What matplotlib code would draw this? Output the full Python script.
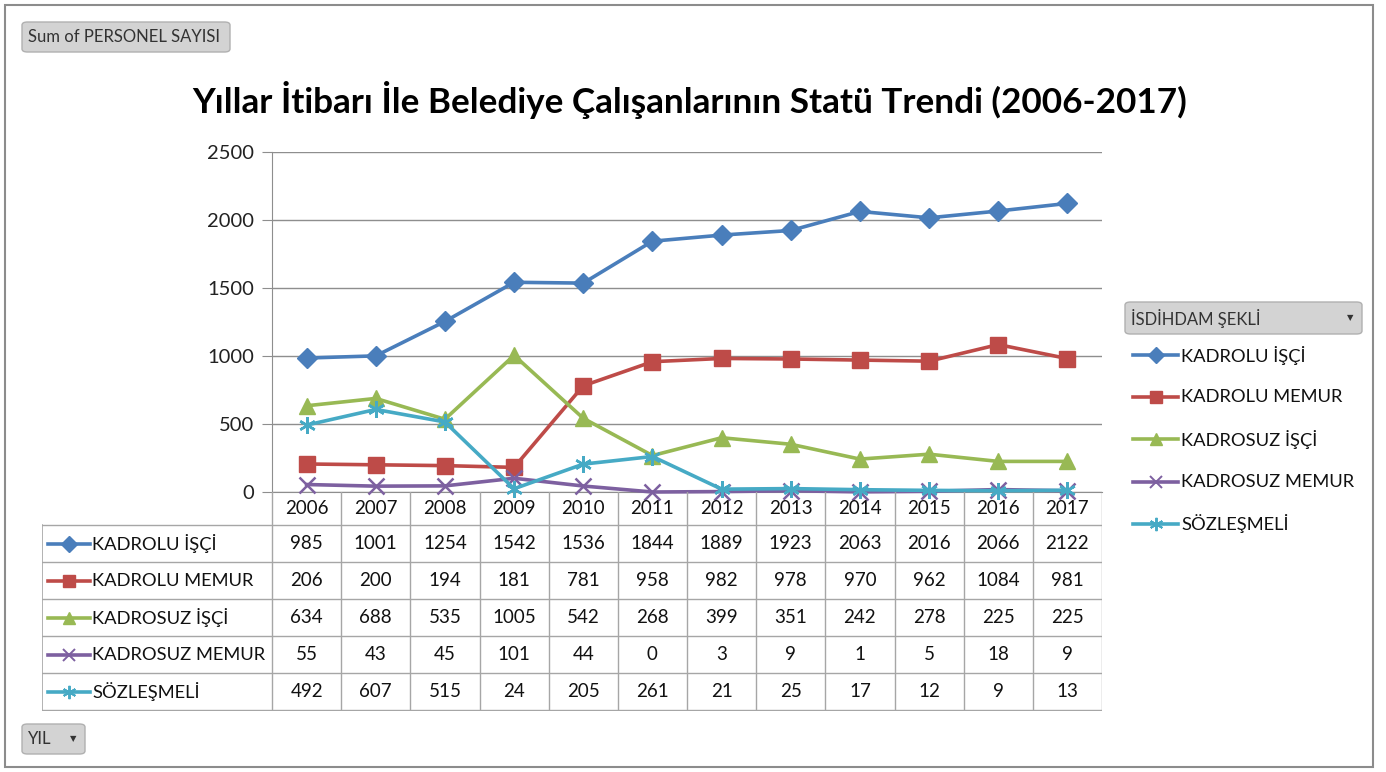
import matplotlib
matplotlib.use("Agg")
import matplotlib.pyplot as plt
from matplotlib import patches

plt.rcParams["font.family"] = ["Lato", "DejaVu Sans"]

# veri
years = ["2006", "2007", "2008", "2009", "2010", "2011",
         "2012", "2013", "2014", "2015", "2016", "2017"]
series_names = ["KADROLU İŞÇİ", "KADROLU MEMUR", "KADROSUZ İŞÇİ",
                "KADROSUZ MEMUR", "SÖZLEŞMELİ"]
kadrolu_isci = [985, 1001, 1254, 1542, 1536, 1844, 1889, 1923, 2063, 2016, 2066, 2122]
kadrolu_memur = [206, 200, 194, 181, 781, 958, 982, 978, 970, 962, 1084, 981]
kadrosuz_isci = [634, 688, 535, 1005, 542, 268, 399, 351, 242, 278, 225, 225]
kadrosuz_memur = [55, 43, 45, 101, 44, 0, 3, 9, 1, 5, 18, 9]
sozlesmeli = [492, 607, 515, 24, 205, 261, 21, 25, 17, 12, 9, 13]
yticks = [0, 500, 1000, 1500, 2000, 2500]

values = [kadrolu_isci, kadrolu_memur, kadrosuz_isci, kadrosuz_memur, sozlesmeli]
colors = ["#4A7EBB", "#BE4B48", "#98B954", "#7D60A0", "#46AAC5"]
markers = ["D", "s", "^", "x", (6, 2, 0)]
msizes = [10, 11, 11, 11, 12]

W, H = 1386, 772
DPI = 100
fig = plt.figure(figsize=(W / DPI, H / DPI), dpi=DPI)


def fx(px):
    return px / W


def fy(py):
    return 1 - py / H


# dış çerçeve
fig.add_artist(patches.Rectangle((fx(5), fy(767)), fx(1373 - 5), (767 - 5) / H,
                                 fill=False, edgecolor="#8C8C8C", linewidth=1.5,
                                 transform=fig.transFigure))

# düğmeler
def button(x0, y0, x1, y1, label, arrow=False, fs=12):
    fig.add_artist(patches.FancyBboxPatch(
        (fx(x0), fy(y1)), fx(x1 - x0), (y1 - y0) / H,
        boxstyle="round,pad=0,rounding_size=0.004",
        facecolor="#D3D3D3", edgecolor="#B0B0B0", linewidth=1,
        transform=fig.transFigure))
    fig.text(fx(x0 + 6), fy((y0 + y1) / 2), label, fontsize=fs, color="#333333",
             ha="left", va="center")
    if arrow:
        fig.text(fx(x1 - 12), fy((y0 + y1) / 2), "▼", fontsize=6, color="#333333",
                 ha="center", va="center", family="DejaVu Sans")


button(22, 22, 230, 52, "Sum of PERSONEL SAYISI")
button(22, 724, 85, 754, "YIL", arrow=True)
button(1125, 302, 1362, 334, "İSDİHDAM ŞEKLİ", arrow=True)

# başlık
fig.text(fx(690), fy(100), "Yıllar İtibarı İle Belediye Çalışanlarının Statü Trendi (2006-2017)",
         fontsize=25.3, fontweight="bold", color="black", ha="center", va="center")

# ana grafik
ax = fig.add_axes([fx(272), fy(492), fx(1102 - 272), (492 - 152) / H])
x = list(range(len(years)))
for vals, c, m, ms in zip(values, colors, markers, msizes):
    mew = 1.8 if m in ("x", (6, 2, 0)) else 1
    ax.plot(x, vals, color=c, linewidth=2.6, marker=m, markersize=ms,
            markeredgewidth=mew, markeredgecolor=c, markerfacecolor=c,
            clip_on=False, zorder=3)
ax.set_xlim(-0.5, len(years) - 0.5)
ax.set_ylim(0, 2500)
ax.set_yticks(yticks)
ax.set_yticklabels([str(t) for t in yticks], fontsize=14.5, color="#222222")
ax.set_xticks([])
ax.yaxis.grid(True, color="#8E8E8E", linewidth=1)
ax.set_axisbelow(True)
for s in ["top", "right"]:
    ax.spines[s].set_visible(False)
ax.spines["left"].set_color("#8E8E8E")
ax.spines["bottom"].set_color("#8E8E8E")
ax.tick_params(axis="y", length=7, color="#8E8E8E", pad=6)

# veri tablosu
col_w = (1102 - 272) / len(years)
left_unit = -0.5 - (272 - 42) / col_w
tab = fig.add_axes([fx(42), fy(711), fx(1102 - 42), (711 - 492) / H])
tab.set_xlim(left_unit, len(years) - 0.5)
tab.set_ylim(219, 0)
tab.axis("off")
grid_c = "#A6A6A6"
row_tops = [33 + 37 * k for k in range(6)]
for i in range(len(years) + 1):
    tab.plot([i - 0.5, i - 0.5], [0, 219], color=grid_c, linewidth=1)
tab.plot([left_unit, left_unit], [33, 219], color=grid_c, linewidth=1.2)
for yy in row_tops:
    tab.plot([left_unit, len(years) - 0.5], [yy, yy], color=grid_c, linewidth=1)
for i, yr in enumerate(years):
    tab.text(i, 17, yr, fontsize=13.5, ha="center", va="center", color="#111111")
for r, (name, vals, c, m, ms) in enumerate(zip(series_names, values, colors, markers, msizes)):
    yc = 33 + 37 * r + 18.5
    x0 = left_unit + 6 / col_w
    x1 = left_unit + 48 / col_w
    tab.plot([x0, x1], [yc, yc], color=c, linewidth=2.6)
    mew = 1.4 if m in ("x", (6, 2, 0)) else 1
    tab.plot([(x0 + x1) / 2], [yc], color=c, marker=m, markersize=ms * 0.8,
             markeredgewidth=mew, markeredgecolor=c, markerfacecolor=c)
    tab.text(x1 + 2 / col_w, yc, name, fontsize=13.2, ha="left", va="center", color="#111111")
    for i, v in enumerate(vals):
        tab.text(i, yc, str(v), fontsize=13.5, ha="center", va="center", color="#111111")

# lejant
for k, (name, c, m, ms) in enumerate(zip(series_names, colors, markers, msizes)):
    yc = 355 + 42.2 * k
    fig.add_artist(plt.Line2D([fx(1133), fx(1178)], [fy(yc), fy(yc)], color=c,
                              linewidth=2.6, transform=fig.transFigure))
    mew = 1.4 if m in ("x", (6, 2, 0)) else 1
    fig.add_artist(plt.Line2D([fx(1155.5)], [fy(yc)], color=c, marker=m,
                              markersize=ms * 0.8, markeredgewidth=mew,
                              markeredgecolor=c, markerfacecolor=c,
                              transform=fig.transFigure))
    fig.text(fx(1181), fy(yc), name, fontsize=13.2, ha="left", va="center", color="#111111")

fig.savefig("out.png", dpi=DPI, facecolor="white")
